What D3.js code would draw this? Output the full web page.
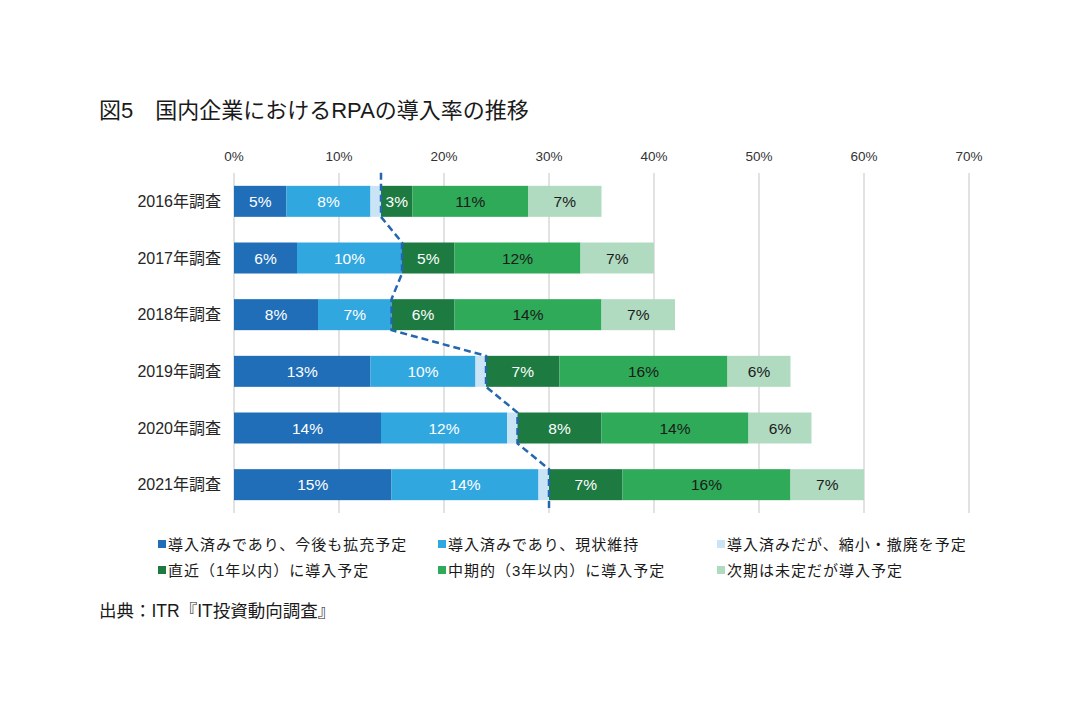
<!DOCTYPE html>
<html>
<head>
<meta charset="utf-8">
<script src="https://cdn.jsdelivr.net/npm/d3@7"></script>
<style>
  body { margin: 0; background: #fff; }
  svg text { font-family: "Liberation Sans", Arial, "Noto Sans CJK JP", sans-serif; }
</style>
</head>
<body>
<svg id="chart"></svg>
<script>
// survey years (rows)
const years = ["2016年調査", "2017年調査", "2018年調査", "2019年調査", "2020年調査", "2021年調査"];
// stack series, left to right
const seriesNames = [
    "導入済みであり、今後も拡充予定",
    "導入済みであり、現状維持",
    "導入済みだが、縮小・撤廃を予定",
    "直近（1年以内）に導入予定",
    "中期的（3年以内）に導入予定",
    "次期は未定だが導入予定"
];
const expanding   = [5, 6, 8, 13, 14, 15];
const keeping     = [8, 10, 7, 10, 12, 14];
const shrinking   = [1, 0, 0, 1, 1, 1];
const within1Year = [3, 5, 6, 7, 8, 7];
const within3Year = [11, 12, 14, 16, 14, 16];
const undecided   = [7, 7, 7, 6, 6, 7];
const tickValues  = [0, 10, 20, 30, 40, 50, 60, 70];

const colors = ["#1f6eb7", "#31a7e0", "#c9e4f5", "#1d7b42", "#2eaa58", "#b0dbc1"];
const labelColors = ["#fff", "#fff", null, "#fff", "#1a1a1a", "#1a1a1a"];

const width = 1081, height = 722;
const svg = d3.select("#chart").attr("width", width).attr("height", height);

// build table for d3.stack
const keys = seriesNames;
const cols = [expanding, keeping, shrinking, within1Year, within3Year, undecided];
const table = years.map((y, i) => {
    const row = {year: y};
    keys.forEach((k, j) => row[k] = cols[j][i]);
    return row;
});
const stacked = d3.stack().keys(keys)(table);

const x = d3.scaleLinear().domain([0, 70]).range([234, 969]);
const y = d3.scaleBand().domain(years).range([173, 513])
    .paddingInner(0.453).paddingOuter(0.2265);

// title
svg.append("text")
    .attr("x", 99).attr("y", 118)
    .style("font-size", "22px").attr("fill", "#1a1a1a")
    .text("図5\u3000国内企業におけるRPAの導入率の推移");

// gridlines
svg.append("g").selectAll("line")
    .data(tickValues).join("line")
    .attr("x1", d => x(d)).attr("x2", d => x(d))
    .attr("y1", 173).attr("y2", 513)
    .attr("stroke", "#d9d9d9").attr("stroke-width", 1.5);

// top axis labels
svg.append("g").selectAll("text")
    .data(tickValues).join("text")
    .attr("x", d => x(d)).attr("y", 156)
    .attr("text-anchor", "middle").attr("dominant-baseline", "central")
    .style("font-size", "13.5px").attr("fill", "#333")
    .text(d => d + "%");

// category labels
svg.append("g").selectAll("text")
    .data(years).join("text")
    .attr("x", 221).attr("y", d => y(d) + y.bandwidth() / 2)
    .attr("text-anchor", "end").attr("dominant-baseline", "central")
    .style("font-size", "16px").attr("fill", "#262626")
    .text(d => d);

// bars
const layers = svg.append("g").selectAll("g")
    .data(stacked).join("g")
    .attr("fill", (d, i) => colors[i]);

layers.selectAll("rect")
    .data(d => d).join("rect")
    .attr("x", d => x(d[0]))
    .attr("y", d => y(d.data.year))
    .attr("width", d => x(d[1]) - x(d[0]))
    .attr("height", y.bandwidth());

// segment labels
stacked.forEach((layer, i) => {
    if (!labelColors[i]) return;
    svg.append("g").selectAll("text")
        .data(layer.filter(d => d[1] - d[0] > 0)).join("text")
        .attr("x", d => x((d[0] + d[1]) / 2))
        .attr("y", d => y(d.data.year) + y.bandwidth() / 2)
        .attr("text-anchor", "middle").attr("dominant-baseline", "central")
        .style("font-size", "15.5px").attr("fill", labelColors[i])
        .text(d => (d[1] - d[0]) + "%");
});

// dashed line between "already introduced" and "planned"
const boundary = stacked[2];
const pts = [];
boundary.forEach((d, i) => {
    const top = y(d.data.year), bottom = top + y.bandwidth();
    pts.push([x(d[1]), i === 0 ? top - 13 : top]);
    pts.push([x(d[1]), i === boundary.length - 1 ? bottom + 10 : bottom]);
});
svg.append("path")
    .attr("d", d3.line()(pts))
    .attr("fill", "none")
    .attr("stroke", "#2466b0")
    .attr("stroke-width", 2.5)
    .attr("stroke-dasharray", "7,4");

// legend
const legendX = [158, 438, 717], legendY = [544, 570];
const legend = svg.append("g").selectAll("g")
    .data(seriesNames).join("g")
    .attr("transform", (d, i) => `translate(${legendX[i % 3]},${legendY[Math.floor(i / 3)]})`);
legend.append("rect")
    .attr("x", 0).attr("y", -4).attr("width", 8).attr("height", 8)
    .attr("fill", (d, i) => colors[i]);
legend.append("text")
    .attr("x", 10).attr("y", 0).attr("dominant-baseline", "central")
    .style("font-size", "15px").style("letter-spacing", "1px").attr("fill", "#1a1a1a")
    .text(d => d);

// source
svg.append("text")
    .attr("x", 99).attr("y", 617)
    .style("font-size", "17.5px").attr("fill", "#1a1a1a")
    .text("出典：ITR『IT投資動向調査』");
</script>
</body>
</html>
